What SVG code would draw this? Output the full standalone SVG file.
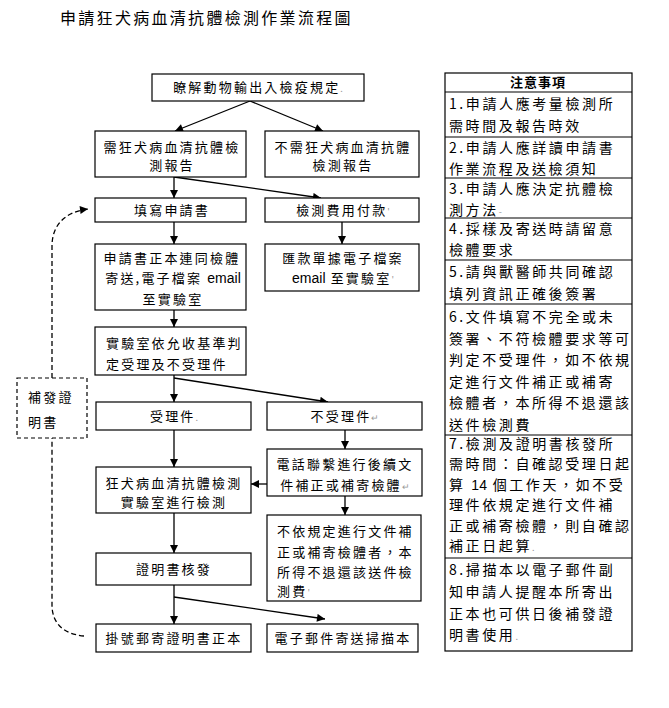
<svg xmlns="http://www.w3.org/2000/svg" width="669" height="708" viewBox="0 0 669 708">
<defs>
<marker id="ah" viewBox="0 0 10 10" refX="10" refY="5" markerWidth="9" markerHeight="8" markerUnits="userSpaceOnUse" orient="auto">
<path d="M0,0 L10,5 L0,10 z" fill="#000"/>
</marker>
<style>
.box{fill:#fff;stroke:#000;stroke-width:1.2}
.t{font-family:"Noto Sans CJK TC","Liberation Sans",sans-serif;font-size:13px;letter-spacing:2.2px;fill:#000}
.m{text-anchor:middle}
.n{font-family:"Noto Sans CJK TC","Liberation Sans",sans-serif;font-size:14px;letter-spacing:2.6px;fill:#000}
.c{fill:none;stroke:#000;stroke-width:1.3;marker-end:url(#ah)}
.d{fill:none;stroke:#000;stroke-width:1.3;stroke-dasharray:5,3}
.g{fill:#999;font-size:9px;letter-spacing:0}
.l{font-family:"Liberation Sans",sans-serif;font-size:14px;letter-spacing:0}
</style>
</defs>
<rect width="669" height="708" fill="#fff"/>
<text x="60" y="24" style="font-family:'Noto Sans CJK TC',sans-serif;font-size:16px;letter-spacing:2.3px">申請狂犬病血清抗體檢測作業流程圖</text>

<g id="connectors">
<path class="c" d="M250,101 L175,131"/>
<path class="c" d="M250,101 L323,131"/>
<path class="c" d="M174,177 L174,198"/>
<path class="c" d="M174,177 L321,198"/>
<path class="c" d="M174,222 L174,244"/>
<path class="c" d="M342,222 L342,244"/>
<path class="c" d="M174,310 L174,327"/>
<path class="c" d="M174,375 L174,402"/>
<path class="c" d="M174,378 L328,402"/>
<path class="c" d="M174,430 L174,467"/>
<path class="c" d="M345,430 L345,449"/>
<path class="c" d="M267,484 L251,484"/>
<path class="c" d="M345,496 L345,515"/>
<path class="c" d="M174,513 L174,553"/>
<path class="c" d="M174,585 L174,624"/>
<path class="c" d="M174,597 L325,619"/>
<path class="d" d="M84,636 C62,634 52,622 52,605 L52,438"/>
<path class="d" style="marker-end:url(#ah)" d="M52,378 L52,246 C52,226 64,212 88,209"/>
</g>

<g id="n-top"><rect class="box" x="152" y="74" width="212" height="27"/><text class="t m" x="258" y="92">瞭解動物輸出入檢疫規定<tspan class="g">.</tspan></text></g>
<g id="n-need"><rect class="box" x="95" y="131" width="151" height="46"/><text class="t m" x="172" y="152">需狂犬病血清抗體檢</text><text class="t m" x="172" y="170">測報告</text></g>
<g id="n-noneed"><rect class="box" x="265" y="131" width="154" height="46"/><text class="t m" x="343" y="152">不需狂犬病血清抗體</text><text class="t m" x="343" y="170">檢測報告</text></g>
<g id="n-fill"><rect class="box" x="95" y="198" width="151" height="24"/><text class="t m" x="172" y="215">填寫申請書</text></g>
<g id="n-pay"><rect class="box" x="265" y="198" width="154" height="24"/><text class="t m" x="343" y="215">檢測費用付款<tspan class="g">'</tspan></text></g>
<g id="n-send"><rect class="box" x="95" y="244" width="151" height="66"/><text class="t m" x="172" y="263">申請書正本連同檢體</text><text class="t m" x="173" y="283">寄送,電子檔案 <tspan class="l">email</tspan></text><text class="t m" x="173" y="304">至實驗室</text></g>
<g id="n-remit"><rect class="box" x="265" y="244" width="154" height="47"/><text class="t m" x="343" y="263">匯款單據電子檔案</text><text class="t m" x="343" y="283"><tspan class="l">email</tspan> 至實驗室<tspan class="g">'</tspan></text></g>
<g id="n-judge"><rect class="box" x="95" y="327" width="151" height="48"/><text class="t" x="106" y="348">實驗室依允收基準判</text><text class="t" x="106" y="369">定受理及不受理件</text></g>
<g id="n-accept"><rect class="box" x="96" y="402" width="155" height="28"/><text class="t m" x="174" y="421">受理件<tspan class="g">.</tspan></text></g>
<g id="n-reject"><rect class="box" x="267" y="402" width="155" height="28"/><text class="t m" x="345" y="421">不受理件<tspan class="g">↵</tspan></text></g>
<g id="n-phone"><rect class="box" x="267" y="449" width="155" height="47"/><text class="t m" x="345" y="469">電話聯繫進行後續文</text><text class="t m" x="345" y="490">件補正或補寄檢體<tspan class="g">↵</tspan></text></g>
<g id="n-test"><rect class="box" x="96" y="467" width="155" height="46"/><text class="t m" x="174" y="488">狂犬病血清抗體檢測</text><text class="t m" x="174" y="507">實驗室進行檢測</text></g>
<g id="n-noretry"><rect class="box" x="267" y="515" width="154" height="86"/><text class="t" x="277" y="536">不依規定進行文件補</text><text class="t" x="277" y="557">正或補寄檢體者，本</text><text class="t" x="277" y="577">所得不退還該送件檢</text><text class="t" x="277" y="596">測費<tspan class="g">'</tspan></text></g>
<g id="n-cert"><rect class="box" x="96" y="553" width="155" height="32"/><text class="t m" x="174" y="574">證明書核發</text></g>
<g id="n-mail"><rect class="box" x="96" y="624" width="155" height="28"/><text class="t m" x="174" y="643">掛號郵寄證明書正本</text></g>
<g id="n-email"><rect class="box" x="267" y="624" width="151" height="28"/><text class="t m" x="343" y="643">電子郵件寄送掃描本</text></g>
<g id="n-reissue"><rect class="box" x="17" y="378" width="70" height="60" style="stroke-dasharray:4,3"/><text class="t" x="28" y="402">補發證</text><text class="t" x="28" y="427">明書</text></g>

<g id="notes">
<rect class="box" x="445" y="73" width="187" height="578"/>
<g stroke="#000" stroke-width="1.2">
<line x1="445" y1="92" x2="632" y2="92"/>
<line x1="445" y1="137" x2="632" y2="137"/>
<line x1="445" y1="178" x2="632" y2="178"/>
<line x1="445" y1="218" x2="632" y2="218"/>
<line x1="445" y1="260" x2="632" y2="260"/>
<line x1="445" y1="304" x2="632" y2="304"/>
<line x1="445" y1="435" x2="632" y2="435"/>
<line x1="445" y1="558" x2="632" y2="558"/>
</g>
<text x="538" y="87" text-anchor="middle" style="font-family:'Noto Sans CJK TC',sans-serif;font-size:13px;font-weight:bold;letter-spacing:1px">注意事項</text>
<text class="n" x="449" y="109">1.申請人應考量檢測所</text>
<text class="n" x="449" y="131">需時間及報告時效</text>
<text class="n" x="449" y="153">2.申請人應詳讀申請書</text>
<text class="n" x="449" y="174">作業流程及送檢須知</text>
<text class="n" x="449" y="194">3.申請人應決定抗體檢</text>
<text class="n" x="449" y="215">測方法<tspan class="g">-</tspan></text>
<text class="n" x="449" y="234">4.採樣及寄送時請留意</text>
<text class="n" x="449" y="255">檢體要求</text>
<text class="n" x="449" y="277">5.請與獸醫師共同確認</text>
<text class="n" x="449" y="299">填列資訊正確後簽署</text>
<text class="n" x="449" y="322">6.文件填寫不完全或未</text>
<text class="n" x="449" y="344">簽署、不符檢體要求等可</text>
<text class="n" x="449" y="365">判定不受理件，如不依規</text>
<text class="n" x="449" y="387">定進行文件補正或補寄</text>
<text class="n" x="449" y="408">檢體者，本所得不退還該</text>
<text class="n" x="449" y="430">送件檢測費</text>
<text class="n" x="449" y="449">7.檢測及證明書核發所</text>
<text class="n" x="449" y="469">需時間：自確認受理日起</text>
<text class="n" x="449" y="490">算 <tspan class="l">14</tspan> 個工作天，如不受</text>
<text class="n" x="449" y="510">理件依規定進行文件補</text>
<text class="n" x="449" y="531">正或補寄檢體，則自確認</text>
<text class="n" x="449" y="551">補正日起算<tspan class="g">.</tspan></text>
<text class="n" x="449" y="575">8.掃描本以電子郵件副</text>
<text class="n" x="449" y="597">知申請人提醒本所寄出</text>
<text class="n" x="449" y="619">正本也可供日後補發證</text>
<text class="n" x="449" y="640">明書使用<tspan class="g">.</tspan></text>
</g>
</svg>
